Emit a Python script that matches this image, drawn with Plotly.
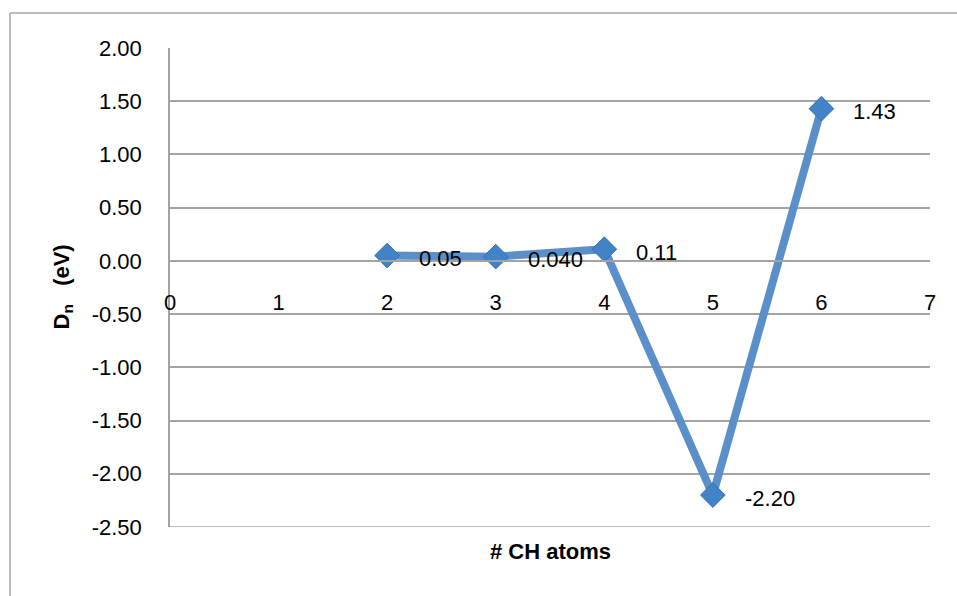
import plotly.graph_objects as go

# Data
ch_atoms = [2, 3, 4, 5, 6]
dn_values = [0.05, 0.04, 0.11, -2.20, 1.43]
dn_labels = ["0.05", "0.040", "0.11", "-2.20", "1.43"]
x_ticks = [0, 1, 2, 3, 4, 5, 6, 7]
y_ticks = [2.0, 1.5, 1.0, 0.5, 0.0, -0.5, -1.0, -1.5, -2.0, -2.5]
y_tick_labels = ["2.00", "1.50", "1.00", "0.50", "0.00", "-0.50", "-1.00", "-1.50", "-2.00", "-2.50"]

W, H = 957, 596
ML, MR, MT, MB = 170, 27, 48, 69
FONT = "Liberation Sans"
GRID = "#a3a3a3"

fig = go.Figure()
fig.add_trace(go.Scatter(
    x=ch_atoms, y=dn_values, mode="lines+markers",
    line=dict(color="#5b8fca", width=8),
    marker=dict(symbol="diamond", size=19, color="#4282c6",
                line=dict(color="#3470b0", width=1)),
    showlegend=False, hoverinfo="skip",
))

for xv, yv, lab in zip(ch_atoms, dn_values, dn_labels):
    fig.add_annotation(x=xv, y=yv, text=lab, showarrow=False,
                       xanchor="left", yanchor="middle", xshift=30, yshift=-3,
                       font=dict(family=FONT, size=22, color="black"))

ymin, ymax = y_ticks[-1], y_ticks[0]
pw = W - ML - MR
ph = H - MT - MB

fig.update_layout(
    width=W, height=H,
    margin=dict(l=ML, r=MR, t=MT, b=MB, pad=0),
    paper_bgcolor="white", plot_bgcolor="white",
    font=dict(family=FONT, size=22, color="black"),
    xaxis=dict(
        range=[x_ticks[0], x_ticks[-1]], tickvals=x_ticks,
        ticktext=[str(v) for v in x_ticks],
        showgrid=False, zeroline=False, showline=True, linecolor=GRID, linewidth=1.5,
        anchor="free", position=(0 - ymin) / (ymax - ymin),
        ticks="", ticklabelstandoff=22,
        tickfont=dict(family=FONT, size=22),
    ),
    yaxis=dict(
        range=[ymin, ymax], tickvals=y_ticks, ticktext=y_tick_labels,
        showgrid=True, gridcolor=GRID, gridwidth=1.5,
        zeroline=False, showline=True, linecolor=GRID, linewidth=1.5,
        ticks="", ticklabelstandoff=22,
        tickfont=dict(family=FONT, size=22),
    ),
)

# Bottom gridline (at the lowest tick)
fig.add_shape(type="line", xref="paper", yref="y", x0=0, x1=1, y0=ymin, y1=ymin,
              line=dict(color=GRID, width=1.5), layer="below")

# Axis titles
fig.add_annotation(xref="paper", yref="paper", x=0.5, y=-24 / ph,
                   text="<b># CH atoms</b>", showarrow=False,
                   xanchor="center", yanchor="middle",
                   font=dict(family=FONT, size=22))
fig.add_annotation(xref="paper", yref="paper", x=(62 - ML) / pw, y=0.5,
                   text="<b>D<sub>n</sub>&nbsp;&nbsp;&nbsp;(eV)</b>", showarrow=False,
                   textangle=-90, xanchor="center", yanchor="middle",
                   font=dict(family=FONT, size=22))

# Outer chart frame (left and top edges)
fx = (10 - ML) / pw
fy = (H - MB - 13) / ph
fig.add_shape(type="line", xref="paper", yref="paper", x0=fx, y0=fy, x1=(W - ML) / pw, y1=fy,
              line=dict(color="#a6a6a6", width=1.5))
fig.add_shape(type="line", xref="paper", yref="paper", x0=fx, y0=fy, x1=fx, y1=-MB / ph,
              line=dict(color="#a6a6a6", width=1.5))

fig.write_html("out.html")
